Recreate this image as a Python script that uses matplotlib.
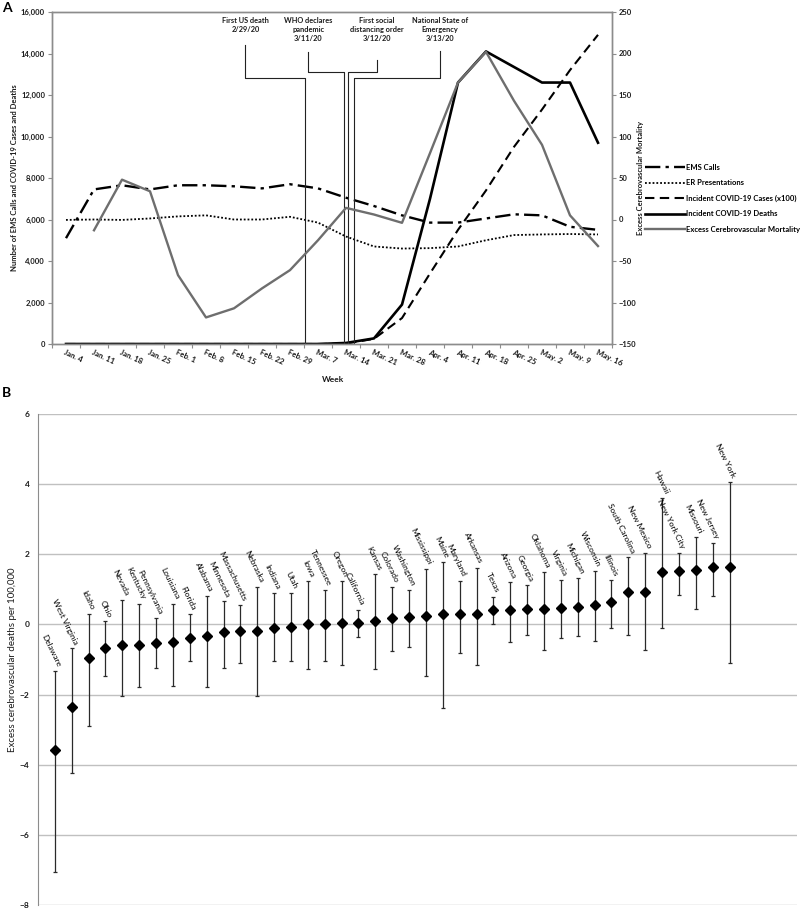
import matplotlib
matplotlib.use('Agg')
import matplotlib.pyplot as plt
import numpy as np

# ---------------- Panel A data ----------------
weeks = ["Jan. 4", "Jan. 11", "Jan. 18", "Jan. 25", "Feb. 1", "Feb. 8", "Feb. 15",
         "Feb. 22", "Feb. 29", "Mar. 7", "Mar. 14", "Mar. 21", "Mar. 28", "Apr. 4",
         "Apr. 11", "Apr. 18", "Apr. 25", "May. 2", "May. 9", "May. 16"]
ems_calls = [5100, 7450, 7650, 7450, 7650, 7650, 7600, 7500, 7700, 7500,
             7050, 6650, 6200, 5850, 5850, 6050, 6250, 6200, 5650, 5500]
er_presentations = [5980, 6000, 5980, 6050, 6150, 6200, 6000, 6000, 6130, 5850,
                    5180, 4700, 4600, 4620, 4700, 5000, 5250, 5280, 5300, 5280]
covid_cases_x100 = [0, 0, 0, 0, 0, 0, 0, 0, 0, 0,
                    20, 250, 1250, 3400, 5500, 7400, 9500, 11300, 13200, 14900]
covid_deaths = [0, 0, 0, 0, 0, 0, 0, 0, 0, 0,
                50, 270, 1900, 7000, 12600, 14100, 13350, 12600, 12600, 9700]
excess_mortality = [np.nan, -13, 48, 34, -67, -118, -107, -83, -61, -25,
                    14, 6, -4, 80, 165, 202, 143, 90, 5, -32]

event_labels = ["First US death\n2/29/20", "WHO declares\npandemic\n3/11/20",
                "First social\ndistancing order\n3/12/20",
                "National State of\nEmergency\n3/13/20"]
event_pos = [8.53, 9.92, 10.08, 10.28]      # event position on the week axis
event_label_pos = [6.41, 8.65, 11.10, 13.36]
event_stem_top = [14410, 14090, 13680, 14130]
event_elbow = [12800, 13120, 13120, 12800]

# ---------------- Panel B data ----------------
states = ["Delaware", "West Virginia", "Idaho", "Ohio", "Nevada", "Kentucky",
          "Pennsylvania", "Louisiana", "Florida", "Alabama", "Minnesota",
          "Massachusetts", "Nebraska", "Indiana", "Utah", "Iowa", "Tennessee",
          "Oregon", "California", "Kansas", "Colorado", "Washington", "Mississippi",
          "Maine", "Maryland", "Arkansas", "Texas", "Arizona", "Georgia", "Oklahoma",
          "Virginia", "Michigan", "Wisconsin", "Illinois", "South Carolina",
          "New Mexico", "Hawaii", "New York City", "Missouri", "New Jersey", "New York"]
excess_est = [-3.58, -2.35, -0.96, -0.68, -0.58, -0.58, -0.52, -0.49, -0.38, -0.32,
              -0.21, -0.18, -0.18, -0.09, -0.07, 0.0, 0.0, 0.03, 0.03, 0.11,
              0.17, 0.21, 0.23, 0.30, 0.30, 0.31, 0.41, 0.41, 0.44, 0.44,
              0.47, 0.50, 0.55, 0.65, 0.93, 0.93, 1.49, 1.52, 1.55, 1.64, 1.64]
excess_lower = [-7.05, -4.23, -2.90, -1.48, -2.03, -1.79, -1.25, -1.76, -1.04, -1.79,
                -1.23, -1.09, -2.05, -1.04, -1.04, -1.27, -1.04, -1.15, -0.35, -1.26,
                -0.75, -0.64, -1.46, -2.38, -0.82, -1.16, 0.0, -0.49, -0.29, -0.73,
                -0.38, -0.34, -0.47, -0.11, -0.29, -0.73, -0.09, 0.85, 0.44, 0.82, -1.10]
excess_upper = [-1.33, -0.68, 0.31, 0.09, 0.71, 0.59, 0.17, 0.59, 0.29, 0.82,
                0.66, 0.55, 1.08, 0.89, 0.91, 1.24, 0.98, 1.24, 0.42, 1.43,
                1.08, 0.98, 1.58, 1.79, 1.24, 1.62, 0.79, 1.20, 1.11, 1.50,
                1.26, 1.31, 1.52, 1.26, 1.93, 2.05, 3.60, 2.05, 2.48, 2.33, 4.07]

plt.rcParams['font.family'] = ['Lato', 'DejaVu Sans']
W, H = 800, 910
fig = plt.figure(figsize=(W / 100, H / 100), dpi=100)

SPINE = '#8c8c8c'
TXT = '#1a1a1a'

# ================= Panel A =================
ax1 = fig.add_axes([52 / W, 1 - 344 / H, (612 - 52) / W, (344 - 12) / H])
ax1r = ax1.twinx()
x = np.arange(len(weeks))

l_ems, = ax1.plot(x, ems_calls, color='black', lw=1.7,
                  linestyle=(0, (6.5, 2.2, 1.4, 2.2)), label='EMS Calls')
l_er, = ax1.plot(x, er_presentations, color='black', lw=1.3,
                 linestyle=(0, (1, 1.1)), label='ER Presentations')
l_cases, = ax1.plot(x, covid_cases_x100, color='black', lw=1.5,
                    linestyle=(0, (4.5, 2.6)), label='Incident COVID-19 Cases (x100)')
l_deaths, = ax1.plot(x, covid_deaths, color='black', lw=1.9,
                     label='Incident COVID-19 Deaths')
l_exc, = ax1r.plot(x, excess_mortality, color='#6e6e6e', lw=1.7,
                   label='Excess Cerebrovascular Mortality')

for lab, ep, lp, st, el in zip(event_labels, event_pos, event_label_pos,
                               event_stem_top, event_elbow):
    ax1.plot([lp, lp, ep, ep], [st, el, el, 0], color='#222222', lw=0.8)
    ax1.text(lp, 15760, lab, ha='center', va='top', fontsize=5.3,
             fontweight='bold', color=TXT, linespacing=1.3)

ax1.set_xlim(-0.5, len(weeks) - 0.5)
ax1.set_ylim(0, 16000)
ax1r.set_ylim(-150, 250)
ax1.set_yticks(np.arange(0, 16001, 2000))
ax1.set_yticklabels([f'{v:,}' for v in range(0, 16001, 2000)])
ax1r.set_yticks(np.arange(-150, 251, 50))

ax1.set_xticks(np.arange(-0.5, len(weeks)), labels=[])
ax1.set_xticks(x, labels=weeks, minor=True)
ax1.tick_params(axis='x', which='major', length=3, color=SPINE, direction='out')
ax1.tick_params(axis='x', which='minor', length=0, pad=3, labelsize=5.6)
for t in ax1.get_xticklabels(minor=True):
    t.set_rotation(-25)
    t.set_ha('left')
    t.set_va('top')
    t.set_rotation_mode('anchor')
    t.set_fontweight('bold')
    t.set_color(TXT)

ax1.tick_params(axis='y', length=3, color=SPINE, pad=2, labelsize=5.5)
ax1r.tick_params(axis='y', length=3, color=SPINE, pad=2, labelsize=5.5)
for t in ax1.get_yticklabels() + ax1r.get_yticklabels():
    t.set_fontweight('bold')
    t.set_color(TXT)

for a in (ax1, ax1r):
    for s in a.spines.values():
        s.set_color(SPINE)
        s.set_linewidth(1.0)

fig.text(333 / W, 1 - 379 / H, 'Week', ha='center', va='center', fontsize=6,
         fontweight='bold', color=TXT)
fig.text(15 / W, 1 - 178 / H, 'Number of EMS Calls and COVID-19 Cases and Deaths',
         rotation=90, ha='center', va='center', fontsize=5.5, fontweight='bold', color=TXT)
fig.text(640 / W, 1 - 178 / H, 'Excess Cerebrovascular Mortality',
         rotation=90, ha='center', va='center', fontsize=5.5, fontweight='bold', color=TXT)

leg = fig.legend(handles=[l_ems, l_er, l_cases, l_deaths, l_exc],
                 loc='upper left', bbox_to_anchor=(645 / W, 1 - 164 / H),
                 frameon=False, prop={'family': 'Lato', 'weight': 'bold', 'size': 5.5},
                 handlelength=5.2, handletextpad=0.15, labelspacing=1.1,
                 borderpad=0, borderaxespad=0)

fig.text(2 / W, 1 - 8 / H, 'A', fontsize=10, fontweight='bold', va='center', ha='left')
fig.text(2 / W, 1 - 393 / H, 'B', fontsize=10, fontweight='bold', va='center', ha='left')

# ================= Panel B =================
ax2 = fig.add_axes([38 / W, 1 - 905 / H, (797 - 38) / W, (905 - 414) / H])
xs = np.arange(1, len(states) + 1)
est = np.array(excess_est)
lo = np.array(excess_lower)
hi = np.array(excess_upper)

ax2.errorbar(xs, est, yerr=[est - lo, hi - est], fmt='D', color='black',
             ecolor='#2a2a2a', elinewidth=0.9, capsize=1.5, capthick=0.9,
             markersize=4.6, zorder=3)

for xi, st, top in zip(xs, states, hi):
    ax2.text(xi + 0.25, top + 0.13, st, rotation=-64, rotation_mode='anchor',
             ha='right', va='center', fontsize=6, color='black')

ax2.set_xlim(0, 45)
ax2.set_ylim(-8, 6)
ax2.set_yticks(np.arange(-8, 7, 2))
ax2.set_xticks([])
ax2.grid(axis='y', color='#c0c0c0', lw=1.0)
ax2.set_axisbelow(True)
for k in ('top', 'right', 'bottom'):
    ax2.spines[k].set_visible(False)
ax2.spines['left'].set_color(SPINE)
ax2.tick_params(axis='y', length=0, pad=6, labelsize=6)
for t in ax2.get_yticklabels():
    t.set_fontweight('bold')
    t.set_color(TXT)

fig.text(13 / W, 1 - 660 / H, 'Excess cerebrovascular deaths per 100,000',
         rotation=90, ha='center', va='center', fontsize=7, color=TXT)

fig.savefig('out.png', dpi=100)
